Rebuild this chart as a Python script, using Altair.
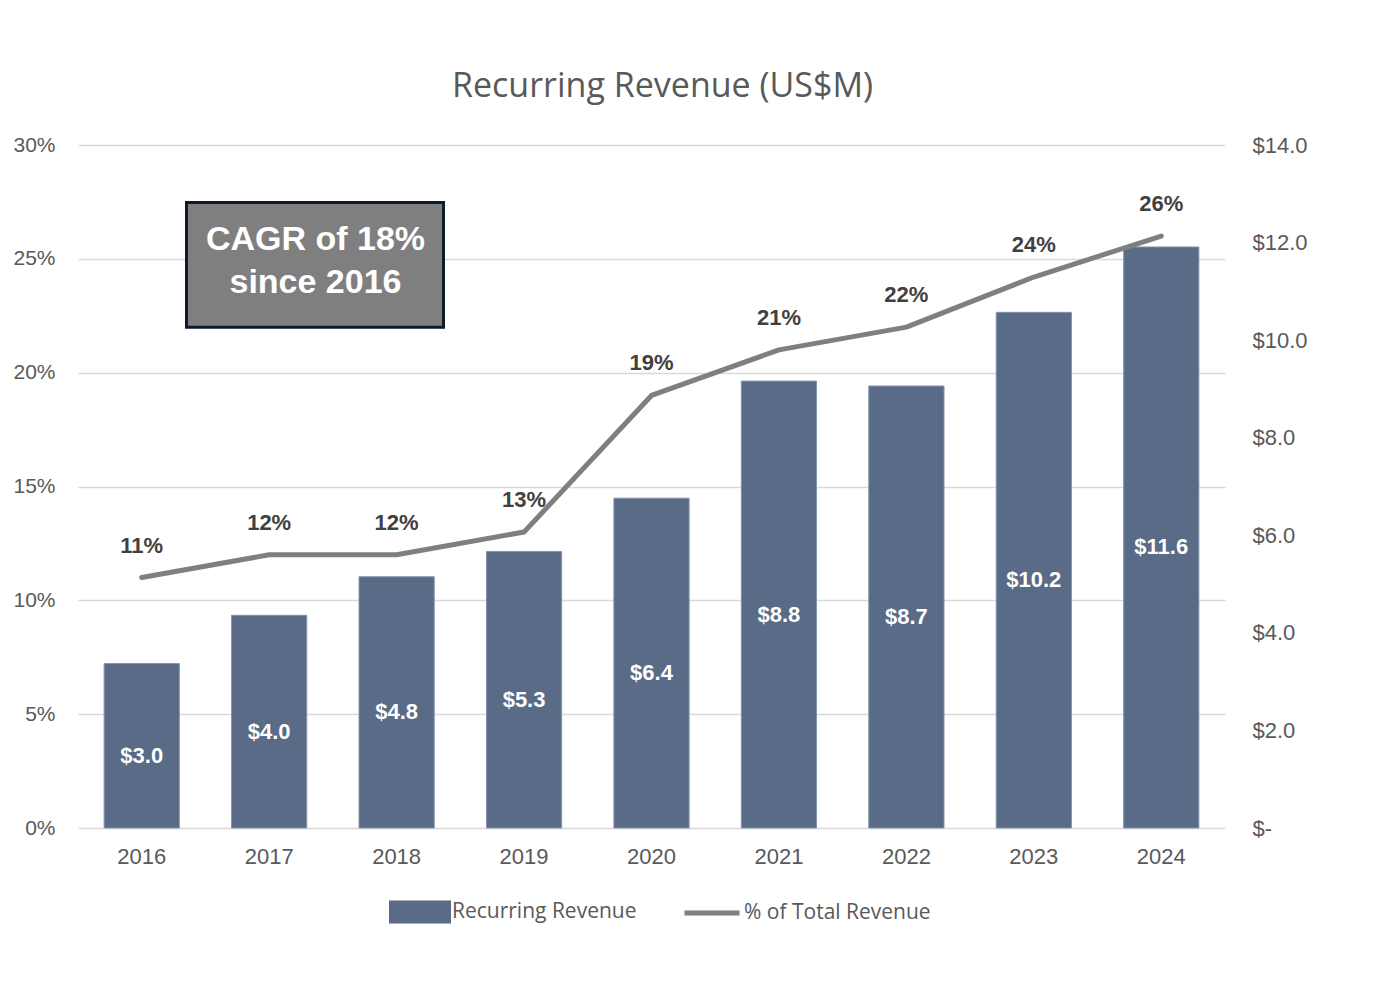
import altair as alt
import pandas as pd

# ---- data ----
years = ["2016", "2017", "2018", "2019", "2020", "2021", "2022", "2023", "2024"]
revenue_bar = [3.37, 4.36, 5.15, 5.67, 6.76, 9.16, 9.06, 10.57, 11.91]
revenue_text = ["$3.0", "$4.0", "$4.8", "$5.3", "$6.4", "$8.8", "$8.7", "$10.2", "$11.6"]
pct_total = [0.11, 0.12, 0.12, 0.13, 0.19, 0.21, 0.22, 0.242, 0.26]
pct_text = ["11%", "12%", "12%", "13%", "19%", "21%", "22%", "24%", "26%"]
pct_ticks = [0, 0.05, 0.10, 0.15, 0.20, 0.25, 0.30]
usd_ticks = [0, 2, 4, 6, 8, 10, 12, 14]
bar_series = ["Recurring Revenue"] * len(years)
line_series = ["% of Total Revenue"] * len(years)
cagr_lines = ["CAGR of 18%", "since 2016"]
chart_title = "Recurring Revenue (US$M)"

# ---- styles ----
BAR = "#596b86"
LINE = "#7f7f7f"
AXC = "#595959"
AXFONT = "Liberation Sans"
TXTFONT = "Open Sans"

df = pd.DataFrame({
    "year": years,
    "rev": revenue_bar,
    "rev_label": revenue_text,
    "pct": pct_total,
    "pct_label": pct_text,
    "s1": bar_series,
    "s2": line_series,
})

x_enc = alt.X(
    "year:N", sort=years,
    scale=alt.Scale(paddingInner=0.41, paddingOuter=0.205),
    axis=alt.Axis(labelAngle=0, domain=False, ticks=False, grid=False, labelPadding=18,
                  labelFontSize=22, labelColor=AXC, labelFont=AXFONT, title=None),
)

usd_scale = alt.Scale(domain=[0, 14], nice=False, zero=True)
usd_axis = alt.Axis(orient="right", values=usd_ticks, grid=False, domain=False, ticks=False,
                    labelPadding=27, labelFontSize=22, labelColor=AXC, labelFont=AXFONT,
                    labelExpr="datum.value == 0 ? '$-' : '$' + format(datum.value, '.1f')",
                    title=None)

pct_scale = alt.Scale(domain=[0, 0.30], nice=False, zero=True)
pct_axis = alt.Axis(orient="left", values=pct_ticks, format=".0%", grid=True, gridColor="#d9d9d9",
                    gridWidth=1.5, domain=False, ticks=False, labelPadding=23, labelFontSize=21,
                    labelColor=AXC, labelFont=AXFONT, title=None)

base = alt.Chart(df)

bars = base.mark_bar(stroke="#8493aa", strokeWidth=1).encode(
    x=x_enc,
    y=alt.Y("rev:Q", scale=usd_scale, axis=usd_axis),
    color=alt.Color("s1:N", scale=alt.Scale(range=[BAR]), legend=alt.Legend(
        orient="none", legendX=311, legendY=736, direction="horizontal", title=None,
        symbolType="M-1,-0.37L1,-0.37L1,0.37L-1,0.37Z", symbolSize=3844, symbolStrokeWidth=0,
        labelFont=TXTFONT, labelFontSize=21, labelColor=AXC, labelOffset=1, labelLimit=0,
        padding=0)),
)

bar_text = base.transform_calculate(mid="datum.rev / 2").mark_text(
    font=AXFONT, fontWeight="bold", fontSize=22, color="white", baseline="middle", dy=10
).encode(
    x=x_enc,
    y=alt.Y("mid:Q", scale=usd_scale, axis=usd_axis),
    text="rev_label:N",
)

line = base.mark_line(strokeWidth=5, strokeCap="round", strokeJoin="round").encode(
    x=x_enc,
    y=alt.Y("pct:Q", scale=pct_scale, axis=pct_axis),
    stroke=alt.Stroke("s2:N", scale=alt.Scale(range=[LINE]), legend=alt.Legend(
        orient="none", legendX=604, legendY=738, direction="horizontal", title=None,
        symbolType="stroke", symbolSize=3025, symbolStrokeWidth=5,
        labelFont=TXTFONT, labelFontSize=21, labelColor=AXC, labelOffset=2, labelLimit=0,
        padding=0)),
)

pct_labels = base.mark_text(
    font=AXFONT, fontWeight="bold", fontSize=22, color="#404040", baseline="middle", dy=-32
).encode(
    x=x_enc,
    y=alt.Y("pct:Q", scale=pct_scale, axis=pct_axis),
    text="pct_label:N",
)

box = alt.Chart(df).transform_filter("datum.year == '2016'").mark_rect(
    fill="#7f7f7f", stroke="#0d1b2a", strokeWidth=3
).encode(
    x=alt.value(108.5), x2=alt.value(365.5),
    y=alt.YDatum(0.2747, scale=pct_scale, axis=pct_axis), y2=alt.Y2Datum(0.2199),
)

box_text = alt.Chart(df).transform_filter("datum.year == '2016'").mark_text(
    text=cagr_lines, font=AXFONT, fontWeight="bold", fontSize=34, color="white",
    baseline="middle", align="center", lineHeight=43
).encode(
    x=alt.value(237.5),
    y=alt.YDatum(0.2583, scale=pct_scale, axis=pct_axis),
)

bar_group = alt.layer(bars, bar_text)
line_group = alt.layer(line, pct_labels, box, box_text)

chart = alt.layer(bar_group, line_group).resolve_scale(y="independent").properties(
    width=1147, height=683,
    title=alt.Title(chart_title, font=TXTFONT, fontSize=34, color=AXC, fontWeight="normal",
                    anchor="middle", frame="group", baseline="alphabetic", offset=3, dx=11),
    autosize=alt.AutoSizeParams(type="none"),
    padding={"left": 70, "top": 137, "right": 150, "bottom": 150},
).configure_view(stroke=None)

chart.save("out.html", embed_options={"renderer": "svg", "actions": False})
